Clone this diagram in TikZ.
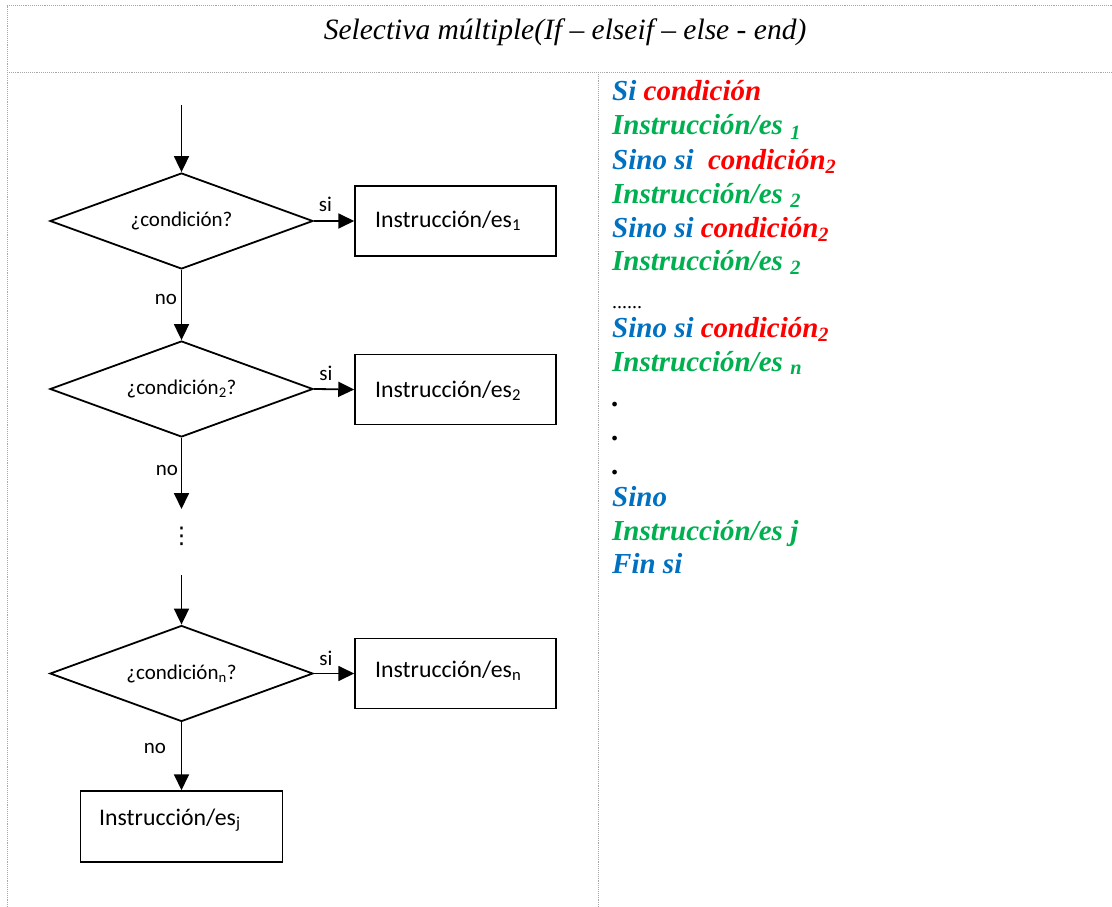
\documentclass[tikz,border=0pt]{standalone}
\usepackage{fontspec}
\usetikzlibrary{shapes.geometric,arrows.meta}
\setmainfont{Liberation Serif}
\newfontfamily\flowfont{Carlito}
\newfontfamily\symfont{DejaVu Sans}
\definecolor{kwblue}{HTML}{0070C0}
\definecolor{kwred}{HTML}{FF0000}
\definecolor{kwgreen}{HTML}{00B050}
\definecolor{rulegray}{HTML}{A8A8A8}

\begin{document}
\begin{tikzpicture}[x=1pt,y=-1pt,
  decision/.style={diamond, shape aspect=2.7, draw, line width=1.8pt, minimum width=263pt,
    minimum height=96pt, inner sep=0pt, font=\flowfont\fontsize{21}{24}\selectfont},
  stepbox/.style={rectangle, draw, line width=1.5pt, minimum width=201pt,
    minimum height=70pt, inner sep=0pt},
  boxtext/.style={anchor=base west, inner sep=0pt, font=\flowfont\fontsize{23.8}{27}\selectfont},
  flowarrow/.style={line width=1.8pt, -{Triangle[length=16pt,width=15pt]}},
  branch/.style={inner sep=0pt, font=\flowfont\fontsize{21}{24}\selectfont},
  code/.style={anchor=base west, inner sep=0pt, font=\bfseries\itshape\fontsize{29}{34}\selectfont},
  frame/.style={rulegray, densely dotted, line width=0.9pt}]

\useasboundingbox (0,0) rectangle (1112,907);

% table frame
\draw[frame] (7,907) -- (7,5) -- (1112,5);
\draw[frame] (7,72) -- (1112,72);
\draw[frame] (598,72) -- (598,907);

% heading
\node[anchor=base, inner sep=0pt, font=\itshape\fontsize{29.5}{33}\selectfont] (title)
  at (565,40) {Selectiva múltiple(If – elseif – else - end)};

% flowchart
\coordinate (start) at (181.5,105);
\node[decision] (d1) at (181.5,221) {¿condición?};
\node[stepbox] (b1) at (455.5,221) {};
\node[boxtext] (t1) at (375,227) {Instrucción/es\textsubscript{1}};

\node[decision] (d2) at (181.5,389) {¿condición\textsubscript{2}?};
\node[stepbox] (b2) at (455.5,389.5) {};
\node[boxtext] (t2) at (375,397) {Instrucción/es\textsubscript{2}};

\coordinate (gapin) at (181.5,509);
\node[inner sep=0pt, font=\symfont\fontsize{23}{26}\selectfont] (gap) at (181.5,536) {⋮};
\coordinate (gapout) at (181.5,575);

\node[decision] (dn) at (181.5,673.5) {¿condición\textsubscript{n}?};
\node[stepbox] (bn) at (455.5,673.5) {};
\node[boxtext] (tn) at (375,677) {Instrucción/es\textsubscript{n}};

\node[stepbox, minimum width=202pt, minimum height=71pt] (bj) at (181.5,826.5) {};
\node[boxtext] (tj) at (99,825) {Instrucción/es\textsubscript{j}};

\draw[flowarrow] (start) -- (d1.north);
\draw[flowarrow] (d1.east) -- (b1.west);
\draw[flowarrow] (d1.south) -- (d2.north);
\draw[flowarrow] (d2.east) -- (b2.west);
\draw[flowarrow] (d2.south) -- (gapin);
\draw[flowarrow] (gapout) -- (dn.north);
\draw[flowarrow] (dn.east) -- (bn.west);
\draw[flowarrow] (dn.south) -- (bj.north);

\node[branch, anchor=base] (si1) at (325.5,211) {si};
\node[branch, anchor=base] (si2) at (326,380) {si};
\node[branch, anchor=base] (sin) at (326,665) {si};
\node[branch] (no1) at (166,299) {no};
\node[branch] (no2) at (167,470) {no};
\node[branch] (non) at (155,748) {no};

% pseudocode
\node[code] (l1) at (612,101) {\textcolor{kwblue}{Si} \textcolor{kwred}{condición}};
\node[code] (l2) at (612,135) {\textcolor{kwgreen}{Instrucción/es \textsubscript{1}}};
\node[code] (l3) at (612,169) {\textcolor{kwblue}{Sino si}\ \ \textcolor{kwred}{condición\textsubscript{2}}};
\node[code] (l4) at (612,203) {\textcolor{kwgreen}{Instrucción/es \textsubscript{2}}};
\node[code] (l5) at (612,237) {\textcolor{kwblue}{Sino si} \textcolor{kwred}{condición\textsubscript{2}}};
\node[code] (l6) at (612,270) {\textcolor{kwgreen}{Instrucción/es \textsubscript{2}}};
\node[anchor=base west, inner sep=0pt, font=\fontsize{20}{24}\selectfont] (l7) at (612,308) {......};
\node[code] (l8) at (612,337) {\textcolor{kwblue}{Sino si} \textcolor{kwred}{condición\textsubscript{2}}};
\node[code] (l9) at (612,371) {\textcolor{kwgreen}{Instrucción/es \textsubscript{n}}};
\node[code] (l10) at (612,406) {.};
\node[code] (l11) at (612,440) {.};
\node[code] (l12) at (612,474) {.};
\node[code] (l13) at (612,506) {\textcolor{kwblue}{Sino}};
\node[code] (l14) at (612,540) {\textcolor{kwgreen}{Instrucción/es j}};
\node[code] (l15) at (612,573) {\textcolor{kwblue}{Fin si}};
\end{tikzpicture}
\end{document}
